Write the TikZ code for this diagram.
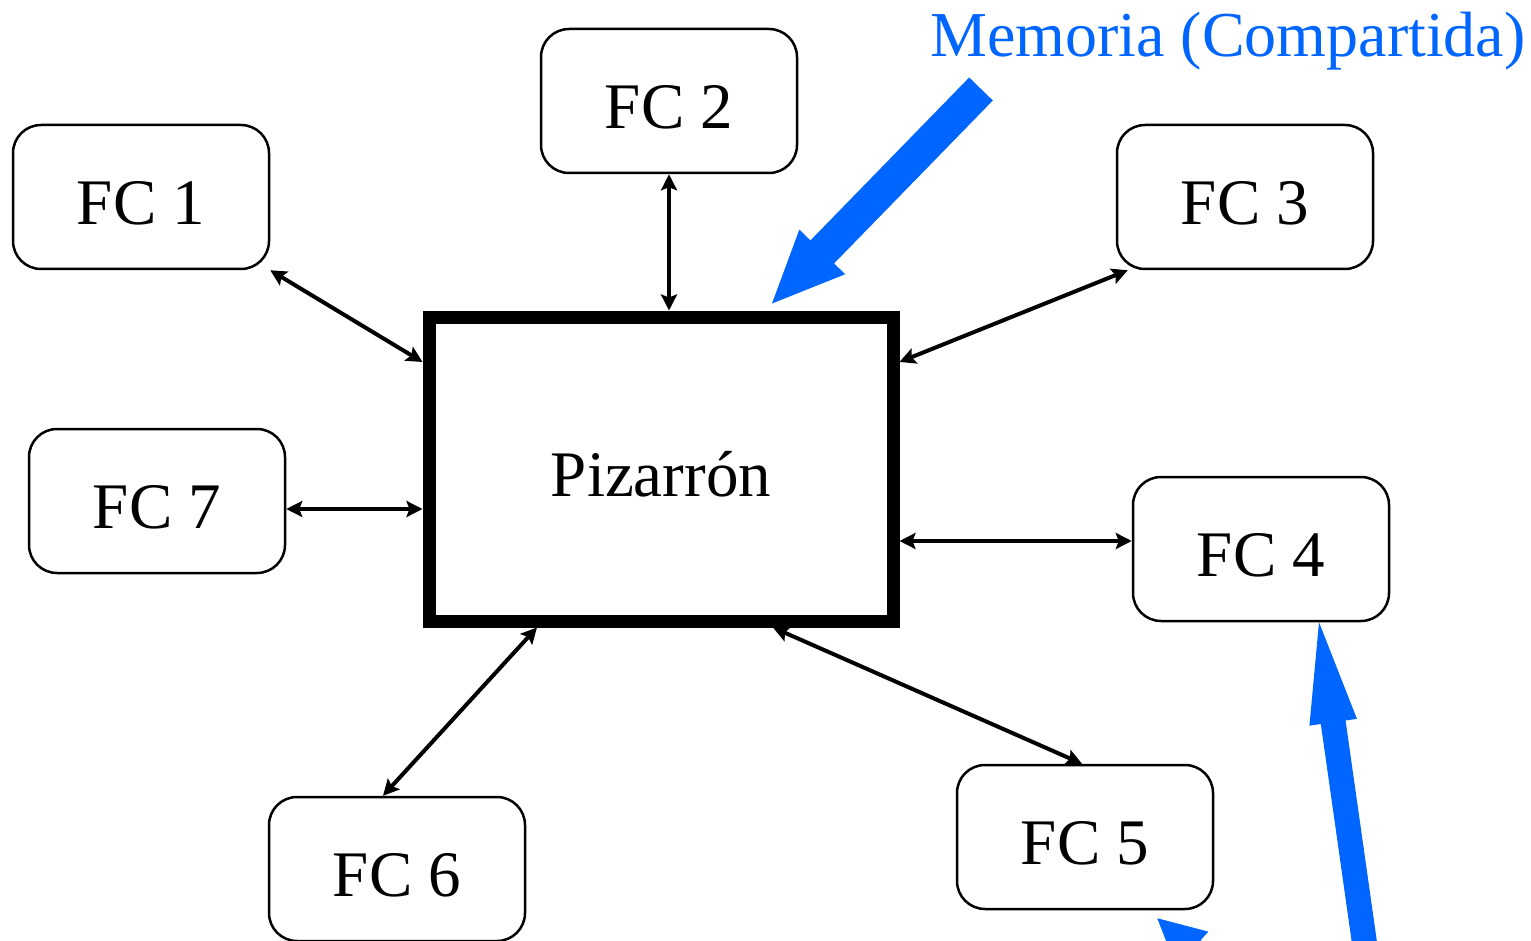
\documentclass[tikz,border=0pt]{standalone}
\usepackage{fontspec}
\setmainfont{Liberation Serif}
\usetikzlibrary{arrows.meta,calc}
\definecolor{memblue}{HTML}{0066FF}
\tikzset{
  fcbox/.style={draw=black, line width=2.5pt, rounded corners=28pt,
    minimum width=256pt, minimum height=144pt, inner sep=0pt, fill=white,
    text height=55pt, text depth=0pt,
    font=\fontsize{65}{70}\selectfont},
  board/.style={draw=black, line width=13pt, outer sep=6.5pt,
    minimum width=464pt, minimum height=304pt, inner sep=0pt,
    text height=55pt, text depth=0pt,
    font=\fontsize{65}{70}\selectfont},
  link/.style={line width=4pt,
    {Stealth[length=16pt,width=16pt,inset=3pt]}-{Stealth[length=16pt,width=16pt,inset=3pt]}},
}
% wide blue arrow: #1 tail, #2 tip, #3 shaft width, #4 head length, #5 head width
\newcommand\bluearrow[5]{%
  \coordinate (hb) at ($(#2)!#4!(#1)$);
  \fill[memblue]
    ($(#1)!#3/2!-90:(#2)$) --
    ($(hb)!#3/2!90:(#1)$) --
    ($(hb)!#5/2!90:(#1)$) --
    (#2) --
    ($(hb)!#5/2!-90:(#1)$) --
    ($(hb)!#3/2!-90:(#1)$) --
    ($(#1)!#3/2!90:(#2)$) -- cycle;
}
\begin{document}
\begin{tikzpicture}[x=1pt,y=-1pt]
  \useasboundingbox (0,0) rectangle (1531,941);
  \clip (0,0) rectangle (1531,941);
  \fill[white] (0,0) rectangle (1531,941);

  % central blackboard
  \node[board] (piz) at (661,469) {Pizarrón};

  % knowledge sources
  \node[fcbox] (fc1) at (141,197) {FC 1};
  \node[fcbox] (fc2) at (669,101) {FC 2};
  \node[fcbox] (fc3) at (1245,197) {FC 3};
  \node[fcbox] (fc7) at (157,501) {FC 7};
  \node[fcbox] (fc4) at (1261,549) {FC 4};
  \node[fcbox] (fc5) at (1085,837) {FC 5};
  \node[fcbox] (fc6) at (397,869) {FC 6};

  % two-way links to the blackboard
  \draw[link] (fc1.south east) -- ([yshift=107pt]piz.west);
  \draw[link] (fc2.south) -- ([xshift=8pt]piz.north);
  \draw[link] ([xshift=12pt]fc3.south west) -- ([yshift=107pt]piz.east);
  \draw[link] ([yshift=-8pt]fc7.east) -- ([yshift=-40pt]piz.west);
  \draw[link] ([yshift=8pt]fc4.west) -- ([yshift=-72pt]piz.east);
  \draw[link] ([xshift=-3pt]fc5.north) -- ([xshift=112pt]piz.south);
  \draw[link] ([xshift=-14pt]fc6.north) -- ([xshift=-124pt]piz.south);

  % shared memory label and pointers
  \node[memblue, anchor=base west, inner sep=0pt,
    font=\fontsize{64}{68}\selectfont] (mem) at (930,57) {Memoria (Compartida)};

  \coordinate (memtail) at (981,89);
  \coordinate (memtip) at ([xshift=111pt,yshift=7pt]piz.north);
  \bluearrow{memtail}{memtip}{33pt}{72pt}{64pt}

  \coordinate (fourtail) at (1374,1010);
  \coordinate (fourtip) at ([xshift=58pt]fc4.south);
  \bluearrow{fourtail}{fourtip}{25pt}{101pt}{48pt}

  \coordinate (fivetail) at (1305,1050);
  \coordinate (fivetip) at ([xshift=-57pt,yshift=-8pt]fc5.south east);
  \bluearrow{fivetail}{fivetip}{25pt}{47pt}{48pt}
\end{tikzpicture}
\end{document}
